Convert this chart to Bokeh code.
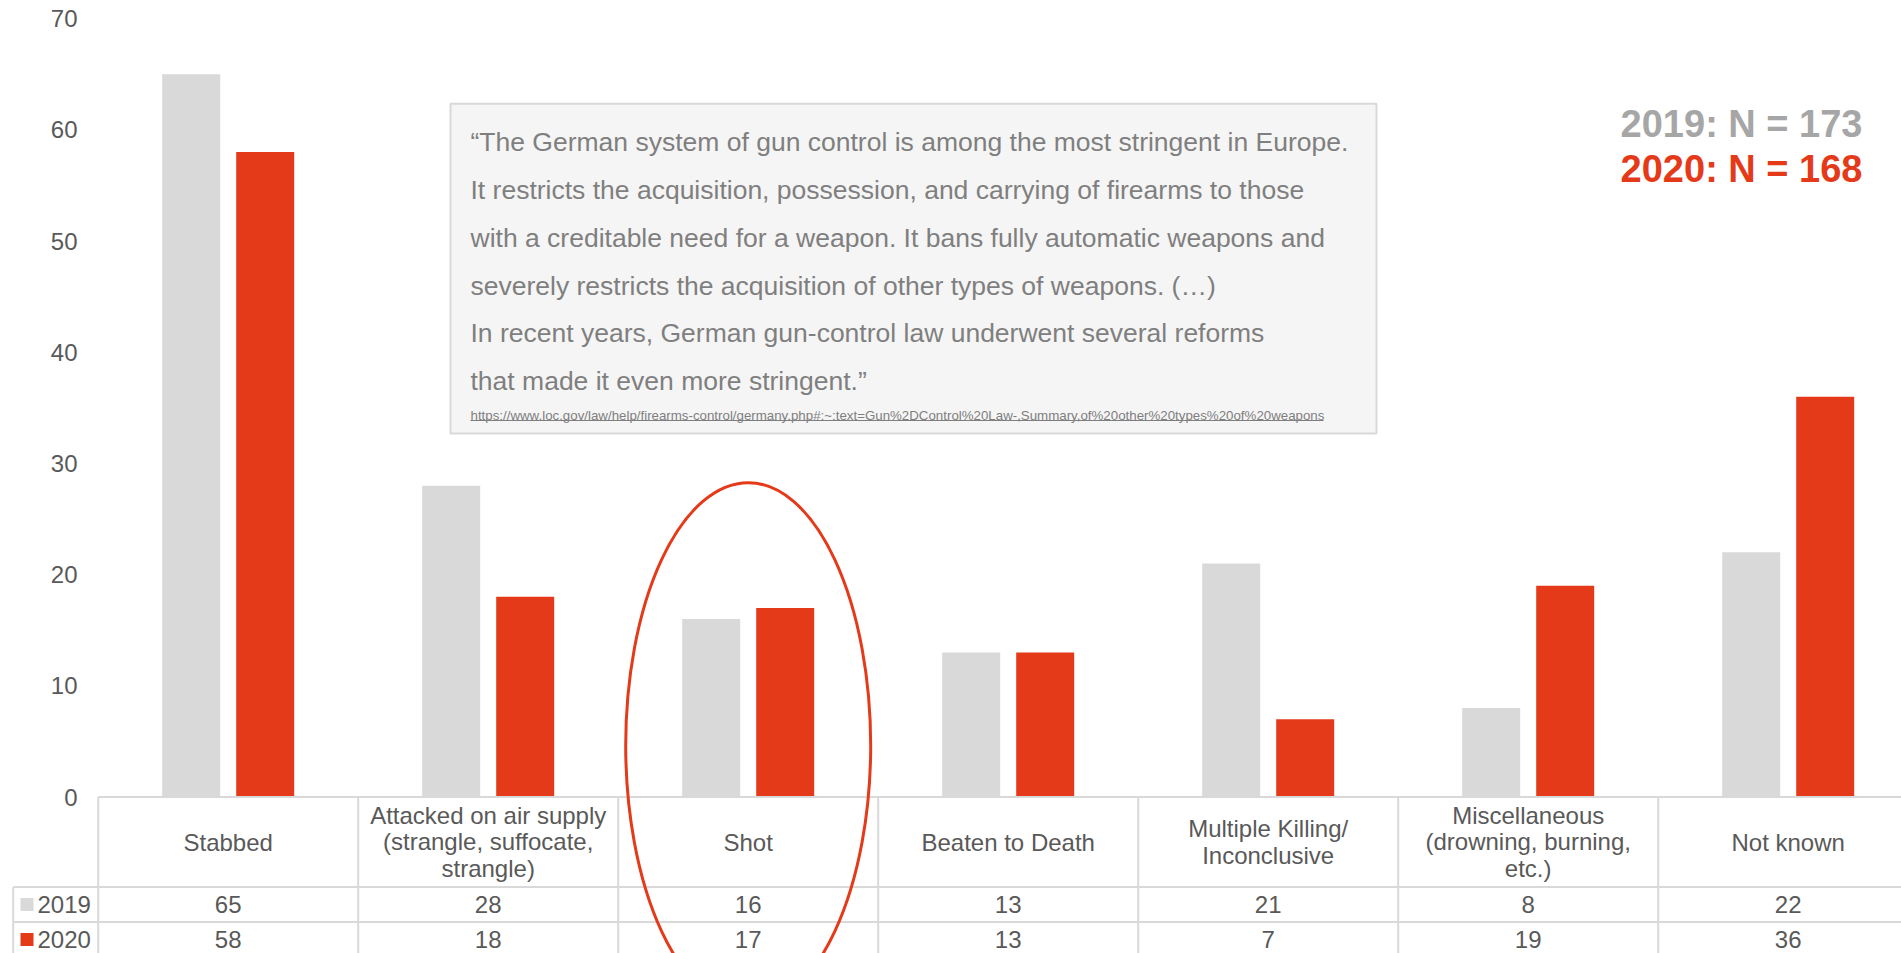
from bokeh.plotting import figure
from bokeh.models import LinearAxis, FixedTicker, Range1d, ColumnDataSource
from bokeh.core.properties import value
from bokeh.embed import file_html
from bokeh.resources import INLINE

# ---------------- data ----------------
categories = [
    "Stabbed",
    "Attacked on air supply\n(strangle, suffocate,\nstrangle)",
    "Shot",
    "Beaten to Death",
    "Multiple Killing/\nInconclusive",
    "Miscellaneous\n(drowning, burning,\netc.)",
    "Not known",
]
values_2019 = [65, 28, 16, 13, 21, 8, 22]
values_2020 = [58, 18, 17, 13, 7, 19, 36]
series_names = ["2019", "2020"]
n_totals = [173, 168]
y_ticks = [0, 10, 20, 30, 40, 50, 60, 70]
highlight = "Shot"
quote_lines = [
    "\u201cThe German system of gun control is among the most stringent in Europe.",
    "It restricts the acquisition, possession, and carrying of firearms to those",
    "with a creditable need for a weapon. It bans fully automatic weapons and",
    "severely restricts the acquisition of other types of weapons. (\u2026)",
    "In recent years, German gun-control law underwent several reforms",
    "that made it even more stringent.\u201d",
]
source_url = ("https://www.loc.gov/law/help/firearms-control/germany.php#:~:text="
              "Gun%2DControl%20Law-,Summary,of%20other%20types%20of%20weapons")

# ---------------- style / layout ----------------
GRAY = "#D9D9D9"
RED = "#E53A1A"
TXT = "#595959"
QTXT = "#7F7F7F"
FONT = "Liberation Sans"

W, H = 1901, 953
PAGE = 0            # page offset of the figure
COL_PX = 260.0      # width of one category column
COL0_PX = 97.7      # page x of first column boundary
Y0_PX = 796.5       # page y of value 0
UNIT_PX = 11.12     # pixels per value unit
HEADER_PX = 90.0
ROW_PX = 35.0
LEG_LEFT_PX = 12.7

def px_x(px):
    return (px - COL0_PX) / COL_PX

def px_y(py):
    return (Y0_PX - py) / UNIT_PX

x_start, x_end = px_x(PAGE), px_x(PAGE + W)
y_start, y_end = px_y(PAGE + H), px_y(PAGE)

p = figure(width=W, height=H,
           x_range=Range1d(x_start, x_end), y_range=Range1d(y_start, y_end),
           x_axis_type=None, y_axis_type=None,
           output_backend="svg", toolbar_location=None,
           min_border=0, outline_line_color=None,
           background_fill_color="white", border_fill_color="white")

yaxis = LinearAxis(ticker=FixedTicker(ticks=y_ticks),
                   axis_line_color=None, major_tick_line_color=None,
                   minor_tick_line_color=None, major_tick_out=0, major_tick_in=0,
                   minor_tick_out=0, minor_tick_in=0,
                   major_label_standoff=-int(77 - PAGE),
                   major_label_text_font_size="24px",
                   major_label_text_color=TXT,
                   major_label_text_font=FONT)
p.add_layout(yaxis, "left")

# ---------------- bars ----------------
n = len(categories)
BAR_W = 58 / COL_PX
OFF = 37 / COL_PX
src = ColumnDataSource(dict(
    x19=[i + 0.5 - OFF for i in range(n)],
    x20=[i + 0.5 + OFF for i in range(n)],
    v19=values_2019, v20=values_2020,
))
p.vbar(x="x19", top="v19", bottom=0, width=BAR_W, source=src,
       fill_color=GRAY, line_color=None)
p.vbar(x="x20", top="v20", bottom=0, width=BAR_W, source=src,
       fill_color=RED, line_color=None)

# ---------------- data table ----------------
y_head = -HEADER_PX / UNIT_PX
y_r1 = -(HEADER_PX + ROW_PX) / UNIT_PX
y_r2 = -(HEADER_PX + 2 * ROW_PX) / UNIT_PX
leg_left = px_x(LEG_LEFT_PX)

hx0 = [0, leg_left, leg_left, leg_left]
hx1 = [n, n, n, n]
hy = [0, y_head, y_r1, y_r2]
p.segment(x0=hx0, y0=hy, x1=hx1, y1=hy, line_color=GRAY, line_width=2)
vx = list(range(n + 1)) + [leg_left]
vy0 = [0] * (n + 1) + [y_head]
p.segment(x0=vx, y0=vy0, x1=vx, y1=[y_r2] * len(vx), line_color=GRAY, line_width=2)

p.text(x=[i + 0.5 for i in range(n)], y=[y_head / 2] * n, text=categories,
       text_align="center", text_baseline="middle", text_font=value(FONT),
       text_font_size="24px", text_color=TXT, text_line_height=0.98)
row_y = [(y_head + y_r1) / 2, (y_r1 + y_r2) / 2]
for vals, ry in zip([values_2019, values_2020], row_y):
    p.text(x=[i + 0.5 for i in range(n)], y=[ry] * n, text=[str(v) for v in vals],
           text_align="center", text_baseline="middle", text_font=value(FONT),
           text_font_size="24px", text_color=TXT)

p.scatter(x=[px_x(26.5)] * 2, y=row_y, marker="square", size=13,
          fill_color=[GRAY, RED], line_color=None)
p.text(x=[px_x(37)] * 2, y=row_y, text=series_names, text_align="left",
       text_baseline="middle", text_font=value(FONT), text_font_size="24px",
       text_color=TXT)

# ---------------- highlight ellipse ----------------
hi = categories.index(highlight)
p.ellipse(x=[hi + 0.5], y=[px_y(745)], width=245 / COL_PX, height=526 / UNIT_PX,
          fill_color=None, line_color=RED, line_width=3)

# ---------------- quote box ----------------
p.quad(left=[px_x(450)], right=[px_x(1376)], top=[px_y(103.3)], bottom=[px_y(433)],
       fill_color="#F5F5F5", line_color=GRAY, line_width=2)
p.text(x=[px_x(470)] * len(quote_lines),
       y=[px_y(141.7 + 47.8 * i) for i in range(len(quote_lines))],
       text=quote_lines, text_align="left", text_baseline="middle",
       text_font=value(FONT), text_font_size="26.5px", text_color=QTXT)
p.text(x=[px_x(470)], y=[px_y(414.5)], text=[source_url], text_align="left",
       text_baseline="middle", text_font=value(FONT), text_font_size="13.3px",
       text_color=QTXT)
p.segment(x0=[px_x(470)], x1=[px_x(1323)], y0=[px_y(420)], y1=[px_y(420)],
          line_color=QTXT, line_width=1)

# ---------------- N labels ----------------
p.text(x=[px_x(1862)] * 2, y=[px_y(123), px_y(168)],
       text=[f"{s}: N = {t}" for s, t in zip(series_names, n_totals)],
       text_align="right", text_baseline="middle", text_font=value(FONT),
       text_font_size="38px", text_font_style="bold", text_color=["#A6A6A6", RED])

open("out.html", "w").write(file_html(p, INLINE))
